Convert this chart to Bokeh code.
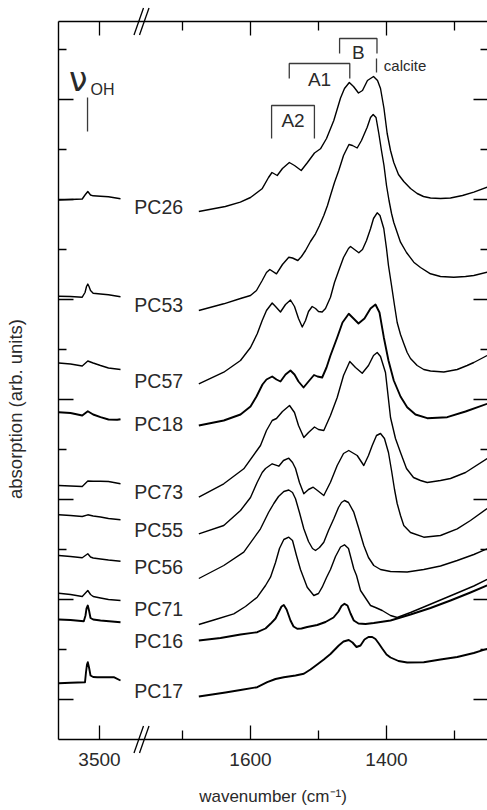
import math
from bokeh.plotting import figure
from bokeh.models import (Range1d, FixedTicker, LinearAxis, Label, NumeralTickFormatter)
from bokeh.core.properties import value
from bokeh.embed import file_html
from bokeh.resources import INLINE

# ---------------------------------------------------------------- data
samples = ["PC26", "PC53", "PC57", "PC18", "PC73", "PC55", "PC56", "PC71", "PC16", "PC17"]

# carbonate region (cm-1) / absorption (arb. units, stacked)
pc26_co_wn = [1676, 1637, 1615, 1600, 1583, 1573.5, 1568.4, 1560.7, 1553, 1542.9, 1535.3, 1525.4, 1516.2, 1505.9,
              1497.1, 1488.2, 1477.5, 1467.6, 1461.8, 1454.7, 1448.5, 1441.2, 1435.3, 1428, 1419.1, 1413.2, 1408.8,
              1403.7, 1399, 1394.1, 1389.3, 1382.4, 1374.6, 1364.7, 1354.9, 1345.6, 1335.3, 1320.6, 1305.9, 1288.2,
              1271.6, 1252]
pc26_co_abs = [52.8, 53.3, 53.73, 54.2, 55.07, 56.2, 56.7, 56.4, 57.1, 57.7, 57.4, 56.9, 57.7, 58.65, 59.07, 60.1,
               61.9, 64.15, 65.1, 65.7, 65.3, 64.65, 64.9, 65.9, 66.3, 65.9, 65.1, 63.1, 60.6, 58.9, 57.7, 56.5, 55.8,
               55.1, 54.6, 54.3, 54.15, 54.1, 54.15, 54.4, 54.73, 55.23]

pc53_co_wn = [1676, 1639.3, 1614.7, 1600, 1591.2, 1582.8, 1576.5, 1571.6, 1561.8, 1553, 1543.7, 1538.2, 1530.4, 1525,
              1519.1, 1511.8, 1504.4, 1498.5, 1492.2, 1486.8, 1482.4, 1476.5, 1470.2, 1463.2, 1455.2, 1450, 1443.1,
              1436.8, 1428.4, 1423.5, 1419.6, 1415.4, 1411.3, 1407.4, 1403.7, 1400, 1396.3, 1392.6, 1389.3, 1383.8,
              1379.4, 1370.6, 1359.9, 1350, 1335.3, 1320.6, 1301, 1283.8, 1271.6, 1252]
pc53_co_abs = [42.9, 43.57, 44.1, 44.4, 44.9, 45.9, 46.7, 47.0, 46.57, 47.5, 48.23, 48.15, 47.9, 48.3, 48.9, 49.8,
               50.57, 51.4, 52.4, 53.4, 54.4, 55.7, 56.9, 58.4, 59.5, 59.4, 59.15, 59.9, 61.23, 62.2, 62.5, 62.2, 60.6,
               58.9, 57.4, 55.4, 53.9, 52.6, 51.7, 50.6, 49.73, 48.7, 47.73, 47.2, 46.57, 46.3, 46.23, 46.3, 46.4, 46.73]

pc57_co_wn = [1676, 1639.3, 1614.7, 1600, 1590.1, 1582.8, 1576.5, 1568.1, 1563.2, 1555.9, 1548.5, 1541.2, 1535.3,
              1529.4, 1523.9, 1519.1, 1514.7, 1509.3, 1504.4, 1500, 1494.6, 1489.7, 1482.4, 1476.5, 1470.2, 1463.2,
              1455.9, 1452.9, 1447.1, 1440.7, 1435.3, 1429.4, 1423.5, 1419.1, 1413.7, 1409.6, 1404, 1400, 1397.1,
              1392.6, 1388.2, 1384.3, 1379.4, 1374.6, 1369.6, 1364.7, 1354.9, 1345.2, 1335.3, 1315.7, 1296, 1281.4,
              1271.6, 1252]
pc57_co_abs = [35.57, 36.73, 37.9, 39.2, 40.57, 41.9, 42.9, 43.65, 43.3, 42.75, 43.5, 43.95, 43.3, 42.1, 41.25, 41.9,
               42.8, 43.3, 43.1, 42.8, 42.75, 43.1, 44.23, 45.7, 46.9, 48.2, 49.1, 49.3, 49.0, 48.67, 49.0, 49.9, 51.07,
               52.1, 52.67, 52.4, 51.1, 49.1, 47.4, 45.4, 43.4, 41.7, 40.5, 39.6, 38.7, 38.1, 37.4, 37.0, 36.85, 36.75,
               37.0, 37.4, 37.7, 38.4]

pc18_co_wn = [1676, 1639.3, 1614.7, 1600, 1591.2, 1582.4, 1576.5, 1568.1, 1561.8, 1555.9, 1548.5, 1541.2, 1535.3,
              1529.4, 1522, 1514.7, 1506.6, 1501.5, 1494.6, 1488.2, 1482.4, 1472.5, 1464.7, 1455.5, 1448.5, 1441.2,
              1432.4, 1423.5, 1416.2, 1410.3, 1404, 1397.1, 1389.3, 1379.4, 1369.6, 1357.4, 1340.1, 1310.7, 1283.8, 1252]
pc18_co_abs = [31.4, 31.9, 32.5, 33.3, 34.3, 35.5, 36.0, 36.3, 36.0, 35.8, 36.5, 36.9, 36.5, 35.8, 35.2, 35.8, 36.45,
               36.3, 36.2, 37.2, 38.4, 40.2, 41.7, 42.57, 42.1, 41.6, 42.1, 43.1, 43.5, 42.7, 40.23, 37.9, 35.9, 34.3,
               33.23, 32.5, 32.13, 32.23, 32.8, 33.57]

pc73_co_wn = [1676, 1639.3, 1609.9, 1585.3, 1576.5, 1568.1, 1561.8, 1553, 1542.6, 1535.3, 1529.4, 1521.6, 1514.7,
              1505.9, 1500, 1492.2, 1482.4, 1472.5, 1463.2, 1454, 1445.6, 1435.7, 1426.5, 1419.1, 1413.7, 1408.8,
              1401.5, 1394.1, 1386.8, 1379.4, 1370.6, 1360.3, 1350, 1340.1, 1320.6, 1305.9, 1283.8, 1252]
pc73_co_abs = [24.23, 25.57, 27.07, 29.4, 30.9, 31.9, 32.1, 32.8, 33.4, 32.7, 31.4, 30.2, 30.7, 31.25, 31.0, 30.9,
               32.4, 34.2, 36.4, 37.8, 37.2, 36.63, 37.4, 38.4, 38.7, 38.3, 36.7, 32.2, 30.1, 28.7, 27.1, 26.2, 25.9,
               25.7, 25.9, 26.1, 26.7, 28.1]

pc55_co_wn = [1676, 1639.3, 1614.7, 1600, 1590.1, 1582.8, 1577.9, 1568.1, 1558.4, 1551.5, 1543.7, 1538.2, 1533.8,
              1528, 1521.6, 1514.7, 1507.8, 1501.5, 1492.2, 1482.4, 1472.5, 1463.2, 1455.5, 1443.1, 1433.4, 1426.5,
              1421, 1414.7, 1408.8, 1403, 1397.1, 1392.6, 1388.2, 1384.3, 1379.4, 1374.6, 1364.7, 1345.2, 1320.6,
              1296, 1276.5, 1252]
pc55_co_abs = [20.57, 21.4, 22.9, 24.2, 25.73, 26.7, 27.1, 27.57, 27.33, 27.9, 28.13, 27.7, 27.1, 25.7, 24.57, 25.0,
               25.23, 24.9, 24.4, 25.73, 27.4, 28.6, 28.9, 28.4, 27.4, 28.4, 29.4, 30.4, 30.6, 30.1, 28.7, 26.9, 25.0,
               23.6, 22.4, 21.4, 20.7, 20.23, 20.4, 21.07, 21.9, 23.1]

pc56_co_wn = [1676, 1639.3, 1609.9, 1585.3, 1573.5, 1565.7, 1558.8, 1551, 1543.7, 1538.2, 1533.8, 1528, 1521.6,
              1514.7, 1508.8, 1504.4, 1498.5, 1492.2, 1485.3, 1477.5, 1470.6, 1466.2, 1461.8, 1455.9, 1448.1, 1441.2,
              1433.4, 1426.5, 1418.7, 1408.8, 1394.1, 1369.6, 1345.2, 1320.6, 1296, 1271.6, 1252]
pc56_co_abs = [16.1, 17.4, 18.73, 21.07, 22.7, 23.6, 24.3, 24.8, 24.95, 24.7, 24.07, 22.7, 21.07, 19.8, 19.1, 18.9,
               19.2, 19.73, 20.9, 22.07, 23.2, 23.7, 23.9, 23.7, 22.73, 21.2, 19.4, 18.2, 17.4, 17.0, 16.8, 16.75, 17.0,
               17.35, 17.9, 18.5, 19.07]

pc71_co_wn = [1676, 1651.5, 1624.6, 1607.4, 1590.1, 1577.9, 1570.6, 1563.2, 1557.4, 1551, 1543.7, 1538.2, 1532.4,
              1526.5, 1516.6, 1506.9, 1500, 1494.6, 1488.2, 1482.4, 1475, 1467.6, 1461.8, 1455.9, 1448.1, 1444.1,
              1438.2, 1428.4, 1423.5, 1416.2, 1406.3, 1394.1, 1384.3, 1364.7, 1345.2, 1320.6, 1296, 1271.6, 1252]
pc71_co_abs = [11.5, 12.0, 12.57, 13.3, 14.23, 15.4, 16.23, 17.7, 19.1, 20.0, 20.23, 19.9, 18.4, 17.0, 15.23, 14.4,
               14.6, 15.23, 16.2, 17.0, 18.3, 19.25, 19.47, 19.1, 17.07, 16.4, 14.9, 13.9, 13.4, 13.2, 12.9, 12.4,
               12.2, 12.7, 13.25, 13.95, 14.65, 15.35, 16.0]

pc16_co_wn = [1676, 1644.1, 1614.7, 1590.1, 1577.9, 1570.6, 1563.2, 1558.8, 1554.4, 1551, 1546.9, 1541.2, 1536.7,
              1531.3, 1525, 1516.6, 1501.9, 1489.7, 1477.9, 1470.6, 1466.2, 1461.8, 1457.4, 1452.9, 1448.1, 1441.2,
              1430.9, 1418.7, 1394.1, 1364.7, 1335.3, 1305.9, 1276.5, 1252]
pc16_co_abs = [9.9, 10.15, 10.5, 10.73, 11.1, 11.57, 12.1, 12.7, 13.3, 13.45, 13.0, 11.9, 11.3, 11.07, 11.1, 11.25,
               11.45, 11.75, 12.2, 12.8, 13.35, 13.57, 13.4, 12.6, 11.9, 11.6, 11.55, 11.65, 11.9, 12.5, 13.15, 13.9,
               14.7, 15.4]

pc17_co_wn = [1676, 1636.8, 1614.7, 1590.1, 1575.4, 1563.2, 1551, 1533.8, 1521.6, 1511.8, 1501.9, 1492.2, 1482.4,
              1470.2, 1463.2, 1455.5, 1450, 1444.1, 1438.2, 1432.4, 1426.5, 1421, 1416.2, 1411.3, 1406.3, 1400,
              1394.1, 1382.4, 1369.6, 1345.2, 1320.6, 1296, 1271.6, 1252]
pc17_co_abs = [4.3, 4.7, 4.95, 5.23, 5.73, 6.05, 6.23, 6.4, 6.57, 7.0, 7.5, 8.0, 8.55, 9.4, 9.8, 9.95, 9.7, 9.25, 9.4,
               10.0, 10.25, 10.25, 10.05, 9.6, 9.1, 8.5, 8.2, 7.85, 7.7, 7.73, 8.0, 8.25, 8.65, 9.07]

# OH stretching region (cm-1) / absorption
pc26_oh_wn = [3559.9, 3542.6, 3525.4, 3521.3, 3517.2, 3513.2, 3509.3, 3498.5, 3486.8, 3469.1]
pc26_oh_abs = [53.95, 54.0, 54.05, 54.45, 54.8, 54.45, 54.37, 54.32, 54.27, 54.07]
pc53_oh_wn = [3559.9, 3542.6, 3525.4, 3521.3, 3519.1, 3517.2, 3515.4, 3513.2, 3509.3, 3498.5, 3486.8, 3469.1]
pc53_oh_abs = [44.33, 44.3, 44.23, 44.7, 45.3, 45.55, 45.3, 44.9, 44.63, 44.55, 44.47, 44.27]
pc57_oh_wn = [3559.9, 3542.6, 3525.4, 3517.2, 3509.3, 3498.5, 3486.8, 3469.1]
pc57_oh_abs = [37.65, 37.55, 37.35, 37.85, 37.65, 37.4, 37.15, 37.0]
pc18_oh_wn = [3559.9, 3542.6, 3525.4, 3517.2, 3509.3, 3498.5, 3486.8, 3474.0, 3469.1]
pc18_oh_abs = [32.73, 32.65, 32.4, 32.83, 32.5, 32.23, 32.0, 31.97, 32.03]
pc73_oh_wn = [3559.9, 3542.6, 3525.4, 3517.2, 3509.3, 3498.5, 3486.8, 3469.1]
pc73_oh_abs = [25.4, 25.35, 25.3, 25.85, 25.83, 25.83, 25.8, 25.57]
pc55_oh_wn = [3559.9, 3542.6, 3525.4, 3517.2, 3509.3, 3498.5, 3486.8, 3469.1]
pc55_oh_abs = [22.47, 22.4, 22.3, 22.47, 22.35, 22.25, 22.1, 21.97]
pc56_oh_wn = [3559.9, 3542.6, 3525.4, 3517.2, 3513.2, 3509.3, 3498.5, 3486.8, 3469.1]
pc56_oh_abs = [18.4, 18.3, 18.17, 18.57, 18.25, 18.15, 18.05, 17.95, 17.83]
pc71_oh_wn = [3559.9, 3542.6, 3525.4, 3517.2, 3513.2, 3509.3, 3498.5, 3486.8, 3469.1]
pc71_oh_abs = [14.63, 14.5, 14.3, 14.9, 14.5, 14.3, 14.15, 14.0, 13.9]
pc16_oh_wn = [3559.9, 3542.6, 3523.1, 3520.6, 3519.1, 3517.2, 3515.4, 3513.2, 3509.3, 3498.5, 3469.1]
pc16_oh_abs = [12.0, 11.95, 11.83, 12.4, 13.1, 13.4, 12.9, 12.15, 12.0, 11.9, 11.73]
pc17_oh_wn = [3559.9, 3542.6, 3521.3, 3519.9, 3518.4, 3517.2, 3515.4, 3513.2, 3509.3, 3503.4, 3479.0, 3469.1]
pc17_oh_abs = [5.63, 5.67, 5.73, 6.7, 7.5, 7.73, 7.2, 6.4, 6.25, 6.23, 6.23, 5.9]

# band assignments (cm-1)
band_names = ["A2", "A1", "B"]
band_high = [1569, 1543, 1469]
band_low = [1506, 1454, 1414]
calcite_wn = 1414.7
oh_band_wn = 3517.6

# axis ticks
oh_tick_labels = [3500]
co_major_ticks = [1600, 1400]
co_minor_ticks = [1700, 1500, 1300]
y_major_ticks = [4, 14, 24, 34, 44, 54, 64]
y_minor_ticks = [9, 19, 29, 39, 49, 59, 69]

# ---------------------------------------------------------------- layout / style
FONT = "Liberation Sans"
TXT = "#2a2a2a"
W, H = 487, 810
# canvas-wide data windows (frame fills the whole canvas, axes are pinned at the box edges)
MAIN_X0, MAIN_X1 = 1967.65, 1251.47          # carbonate-scale window
OH_X0 = 3645.59                               # OH-scale window start
OH_SHIFT = OH_X0 - MAIN_X0                    # OH wavenumber -> main coordinate
Y0, Y1 = -7.1, 73.9
BOX_LEFT, BOX_RIGHT = 1882.35, 1250.0
BOX_BOTTOM, BOX_TOP = 0.0, 71.8
BREAK_X = 1757.36
wn_per_px = (MAIN_X0 - MAIN_X1) / W
y_per_px = (Y1 - Y0) / H


def oh_to_main(w):
    return w - OH_SHIFT


co_series = [
    (pc26_co_wn, pc26_co_abs), (pc53_co_wn, pc53_co_abs), (pc57_co_wn, pc57_co_abs), (pc18_co_wn, pc18_co_abs),
    (pc73_co_wn, pc73_co_abs), (pc55_co_wn, pc55_co_abs), (pc56_co_wn, pc56_co_abs), (pc71_co_wn, pc71_co_abs),
    (pc16_co_wn, pc16_co_abs), (pc17_co_wn, pc17_co_abs)]
oh_series = [
    (pc26_oh_wn, pc26_oh_abs), (pc53_oh_wn, pc53_oh_abs), (pc57_oh_wn, pc57_oh_abs), (pc18_oh_wn, pc18_oh_abs),
    (pc73_oh_wn, pc73_oh_abs), (pc55_oh_wn, pc55_oh_abs), (pc56_oh_wn, pc56_oh_abs), (pc71_oh_wn, pc71_oh_abs),
    (pc16_oh_wn, pc16_oh_abs), (pc17_oh_wn, pc17_oh_abs)]
line_widths = [1.4, 1.4, 1.4, 1.9, 1.4, 1.4, 1.4, 1.4, 1.9, 1.9]
label_x = 1735.0
label_y = [53.27, 43.48, 35.82, 31.53, 24.73, 20.98, 17.22, 13.02, 9.82, 4.82]   # text centres

p = figure(width=W, height=H,
           x_range=Range1d(MAIN_X0, MAIN_X1), y_range=Range1d(Y0, Y1),
           output_backend="svg", toolbar_location=None,
           x_axis_location=None, y_axis_location=None,
           min_border_left=0, min_border_right=0, min_border_top=0, min_border_bottom=0)
p.extra_x_ranges = {"oh": Range1d(OH_X0, OH_X0 - (MAIN_X0 - MAIN_X1))}
p.outline_line_color = None
p.background_fill_color = "white"
p.border_fill_color = "white"
p.xgrid.visible = False
p.ygrid.visible = False


def style_axis(ax, major_in, minor_in):
    ax.axis_line_color = "black"
    ax.axis_line_width = 1.4
    ax.major_tick_line_color = "black"
    ax.minor_tick_line_color = "black"
    ax.major_tick_line_width = 1.3
    ax.minor_tick_line_width = 1.3
    ax.major_tick_in = major_in
    ax.major_tick_out = 0
    ax.minor_tick_in = minor_in
    ax.minor_tick_out = 0


x_major = [oh_to_main(t) for t in oh_tick_labels] + co_major_ticks
for loc, yloc in (("below", BOX_BOTTOM), ("above", BOX_TOP)):
    ax = LinearAxis(ticker=FixedTicker(ticks=x_major, minor_ticks=co_minor_ticks),
                    formatter=NumeralTickFormatter(format="0"),
                    fixed_location=yloc, bounds=(BOX_RIGHT, BOX_LEFT))
    style_axis(ax, 14, 9)
    if loc == "below":
        ax.major_label_overrides = {oh_to_main(t): str(t) for t in oh_tick_labels}
        ax.major_label_text_font = FONT
        ax.major_label_text_font_size = "19px"
        ax.major_label_text_color = TXT
        ax.major_label_standoff = 13
    else:
        ax.major_label_text_color = None
    p.add_layout(ax, loc)

for loc, xloc in (("left", BOX_LEFT), ("right", BOX_RIGHT)):
    ax = LinearAxis(ticker=FixedTicker(ticks=y_major_ticks, minor_ticks=y_minor_ticks),
                    fixed_location=xloc, bounds=(BOX_BOTTOM, BOX_TOP))
    style_axis(ax, 15, 8)
    ax.major_label_text_color = None
    p.add_layout(ax, loc)

# spectra
for (cw, ca), (ow, oa), lw in zip(co_series, oh_series, line_widths):
    p.line(cw, ca, line_color="black", line_width=lw, line_join="round")
    p.line(ow, oa, line_color="black", line_width=lw, line_join="round", x_range_name="oh")

# sample labels
p.text(x=[label_x] * len(samples), y=label_y, text=samples, text_align="center",
       text_baseline="middle", text_font=value(FONT), text_font_size=value("19.5px"),
       text_color=TXT)

# band brackets
bracket_top = [63.4, 67.6, 70.1]
bracket_leg = [3.3, 1.5, 1.5]
bxs, bys = [], []
for hi, lo, top, leg in zip(band_high, band_low, bracket_top, bracket_leg):
    bxs.append([hi, hi, lo, lo])
    bys.append([top - leg, top, top, top - leg])
bxs.append([calcite_wn, calcite_wn])
bys.append([68.1, 66.7])
p.multi_line(bxs, bys, line_color="#3a3a3a", line_width=1.3)
band_label_y = [61.9, 65.97, 68.69]
p.text(x=[(h + l) / 2 for h, l in zip(band_high, band_low)], y=band_label_y, text=band_names,
       text_align="center", text_baseline="middle", text_font=value(FONT),
       text_font_size=value("19px"), text_color=TXT)
p.text(x=[calcite_wn - 10.8], y=[67.42], text=["calcite"], text_align="left", text_baseline="middle",
       text_font=value(FONT), text_font_size=value("15px"), text_color=TXT)

# nu_OH marker
p.line([oh_band_wn, oh_band_wn], [60.8, 64.2], line_color="#3a3a3a", line_width=1.3, x_range_name="oh")
p.text(x=[3545.0], y=[66.04], text=["ν"], text_align="left", text_baseline="middle",
       text_font=value("DejaVu Sans"), text_font_size=value("33px"), text_color=TXT, x_range_name="oh")
p.text(x=[3513.2], y=[64.99], text=["OH"], text_align="left", text_baseline="middle",
       text_font=value(FONT), text_font_size=value("16px"), text_color=TXT, x_range_name="oh")

# axis break marks (two slashes across the top and bottom edges)
bx0, bx1, by0 = [], [], []
for yedge in (BOX_TOP, BOX_BOTTOM):
    for off in (-3.0, 2.5):
        bx0.append(BREAK_X + (6.5 - off) * wn_per_px)
        bx1.append(BREAK_X - (3.0 + off) * wn_per_px)
        by0.append(yedge)
p.segment(x0=bx0, y0=[y - 13.5 * y_per_px for y in by0], x1=bx1, y1=[y + 13.5 * y_per_px for y in by0],
          line_color="black", line_width=1.3)

# axis titles
p.add_layout(Label(x=1566.9, y=-5.71, text="wavenumber (cm⁻¹)", text_align="center",
                   text_baseline="middle", text_font=FONT, text_font_size="17px", text_color=TXT))
p.add_layout(Label(x=1945.6, y=33.05, angle=math.pi / 2, text="absorption (arb. units)",
                   text_align="center", text_baseline="middle",
                   text_font=FONT, text_font_size="18.5px", text_color=TXT))

open("out.html", "w").write(file_html(p, INLINE))
